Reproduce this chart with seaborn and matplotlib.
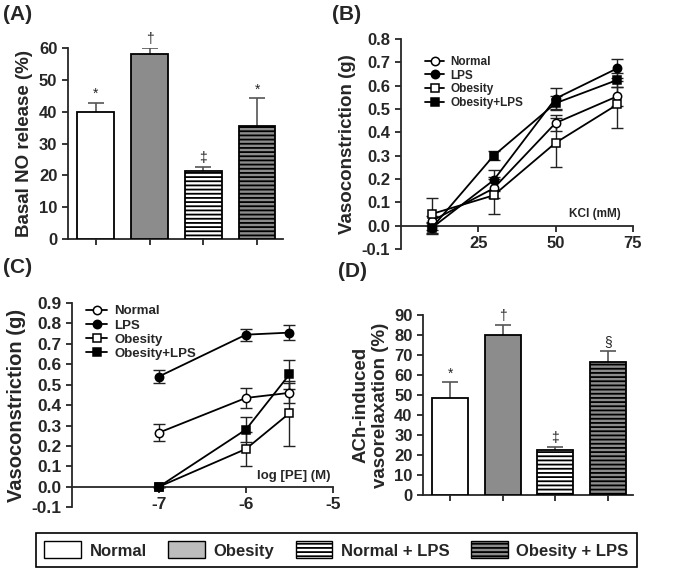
import numpy as np
import pandas as pd
import seaborn as sns
import matplotlib.pyplot as plt
from matplotlib.patches import Patch

sns.set_style('ticks')
plt.rcParams['font.family'] = ['Liberation Sans', 'DejaVu Sans']
plt.rcParams['font.weight'] = 'bold'
plt.rcParams['axes.labelweight'] = 'bold'
plt.rcParams['axes.unicode_minus'] = False
plt.rcParams['hatch.linewidth'] = 1.3

# bar panels (A, D)
groups = ['Normal', 'Obesity', 'Normal + LPS', 'Obesity + LPS']
a_vals = [40, 58, 21.5, 35.5]
a_err = [2.8, 2.0, 1.0, 8.7]
a_sig = ['*', '†', '‡', '*']
d_vals = [48.5, 80, 22.5, 66.5]
d_err = [7.8, 5.0, 1.7, 5.5]
d_sig = ['*', '†', '‡', '§']

# line panels (B, C)
line_groups = ['Normal', 'LPS', 'Obesity', 'Obesity+LPS']
kcl = [10, 30, 50, 70]
b_vals = {'Normal': [0.02, 0.16, 0.44, 0.555],
          'LPS': [-0.01, 0.195, 0.545, 0.675],
          'Obesity': [0.05, 0.13, 0.355, 0.52],
          'Obesity+LPS': [-0.01, 0.30, 0.525, 0.625]}
b_err = {'Normal': [0.02, 0.04, 0.035, 0.04],
         'LPS': [0.02, 0.045, 0.045, 0.04],
         'Obesity': [0.07, 0.08, 0.105, 0.10],
         'Obesity+LPS': [0.025, 0.02, 0.03, 0.03]}
pe = [-7, -6, -5.5]
c_vals = {'Normal': [0.265, 0.435, 0.46],
          'LPS': [0.54, 0.745, 0.755],
          'Obesity': [0.0, 0.185, 0.36],
          'Obesity+LPS': [0.0, 0.28, 0.55]}
c_err = {'Normal': [0.04, 0.05, 0.05],
         'LPS': [0.03, 0.03, 0.035],
         'Obesity': [0.0, 0.085, 0.16],
         'Obesity+LPS': [0.0, 0.06, 0.07]}

bar_face = ['white', '#8c8c8c', 'white', '#8c8c8c']
bar_hatch = ['', '', '----', '----']
markers = {'Normal': ('o', 'white'), 'LPS': ('o', 'black'),
           'Obesity': ('s', 'white'), 'Obesity+LPS': ('s', 'black')}

fig = plt.figure(figsize=(6.85, 5.75), dpi=100)


def style_axis(ax, tsize=12):
    sns.despine(ax=ax)
    for s in ['left', 'bottom']:
        ax.spines[s].set_linewidth(1.3)
    ax.tick_params(direction='out', length=4, width=1.3, labelsize=tsize)


def bar_panel(ax, vals, err, sig, ymax, step, ylabel):
    df = pd.DataFrame({'group': groups, 'value': vals})
    sns.barplot(data=df, x='group', y='value', hue='group', palette=bar_face,
                width=0.68, edgecolor='black', linewidth=1.3, legend=False,
                ax=ax, zorder=3)
    for cont, h in zip(ax.containers, bar_hatch):
        for p in cont:
            p.set_hatch(h)
            p.set_edgecolor('black')
    ax.errorbar(range(4), vals, yerr=err, fmt='none', ecolor='#555555',
                elinewidth=1.2, capsize=6, capthick=1.2, zorder=1)
    for i, (v, e, s) in enumerate(zip(vals, err, sig)):
        ax.text(i, v + e + ymax * 0.01, s, ha='center', va='bottom', fontsize=10,
                fontweight='normal')
    ax.set_ylim(0, ymax)
    ax.set_yticks(np.arange(0, ymax + 1, step))
    ax.set_xlim(-0.52, 3.48)
    ax.set_xticks(range(4))
    ax.set_xticklabels([])
    ax.set_xlabel('')
    ax.set_ylabel(ylabel, fontsize=13.5)
    style_axis(ax)


def line_panel(ax, xs, vals, err, ymax, xlabel_txt, xlab_pos, leg_anchor,
               lsize=13.5, tsize=12, small=8.5):
    for g in line_groups:
        m, fc = markers[g]
        ax.errorbar(xs, vals[g], yerr=err[g], fmt='none', ecolor='#222222',
                    elinewidth=1.0, capsize=4, capthick=1.0, zorder=2)
        df = pd.DataFrame({'x': xs, 'y': vals[g]})
        sns.lineplot(data=df, x='x', y='y', ax=ax, color='black', lw=1.3,
                     marker=m, markerfacecolor=fc, markeredgecolor='black',
                     markersize=6, markeredgewidth=1.1, label=g, zorder=3)
    ax.legend(loc='upper left', bbox_to_anchor=leg_anchor, frameon=False,
              prop={'size': small, 'weight': 'bold'}, handlelength=1.6,
              handletextpad=0.5, labelspacing=0.15, borderpad=0.2)
    ticks = np.round(np.arange(-0.1, ymax + 0.01, 0.1), 1)
    ax.set_ylim(-0.1, ymax)
    ax.set_yticks(ticks)
    ax.set_yticklabels([f'{t:.1f}' for t in ticks])
    ax.spines['bottom'].set_position(('data', 0))
    ax.set_xlabel('')
    ax.set_ylabel('Vasoconstriction (g)', fontsize=lsize)
    ax.text(xlab_pos[0], xlab_pos[1], xlabel_txt, ha='right', va='bottom',
            fontsize=small)
    style_axis(ax, tsize)


axA = fig.add_axes([0.099, 0.5843, 0.314, 0.3322])
bar_panel(axA, a_vals, a_err, a_sig, 60, 10, 'Basal NO release (%)')

axB = fig.add_axes([0.585, 0.567, 0.339, 0.365])
line_panel(axB, kcl, b_vals, b_err, 0.8, 'KCl (mM)', (71, 0.025), (0.07, 0.96))
axB.set_xlim(0, 75)
axB.set_xticks([25, 50, 75])

axC = fig.add_axes([0.105, 0.118, 0.381, 0.355])
line_panel(axC, pe, c_vals, c_err, 0.9, 'log [PE] (M)', (-5.03, 0.025), (0.02, 1.035),
           lsize=14.5, tsize=12.5, small=9.5)
axC.set_xlim(-8, -5)
axC.set_xticks([-7, -6, -5])

axD = fig.add_axes([0.6175, 0.139, 0.3065, 0.313])
bar_panel(axD, d_vals, d_err, d_sig, 90, 10, 'ACh-induced\nvasorelaxation (%)')

for lbl, x, y in [('(A)', 0.004, 0.992), ('(B)', 0.485, 0.992),
                  ('(C)', 0.004, 0.552), ('(D)', 0.493, 0.545)]:
    fig.text(x, y, lbl, fontsize=15, fontweight='bold', va='top', ha='left')

handles = [Patch(facecolor='white', edgecolor='black', lw=1),
           Patch(facecolor='#bdbdbd', edgecolor='black', lw=1),
           Patch(facecolor='white', edgecolor='black', hatch='----', lw=1),
           Patch(facecolor='#8c8c8c', edgecolor='black', hatch='----', lw=1)]
leg = fig.legend(handles, groups, loc='center', bbox_to_anchor=(0.491, 0.0435),
                 ncol=4, prop={'size': 12, 'weight': 'bold'}, handlelength=2.2,
                 handleheight=1.2, handletextpad=0.5, columnspacing=1.3,
                 fancybox=False, edgecolor='black', framealpha=1, borderpad=0.5)
leg.get_frame().set_linewidth(1.2)

fig.savefig('out.png', dpi=100)
